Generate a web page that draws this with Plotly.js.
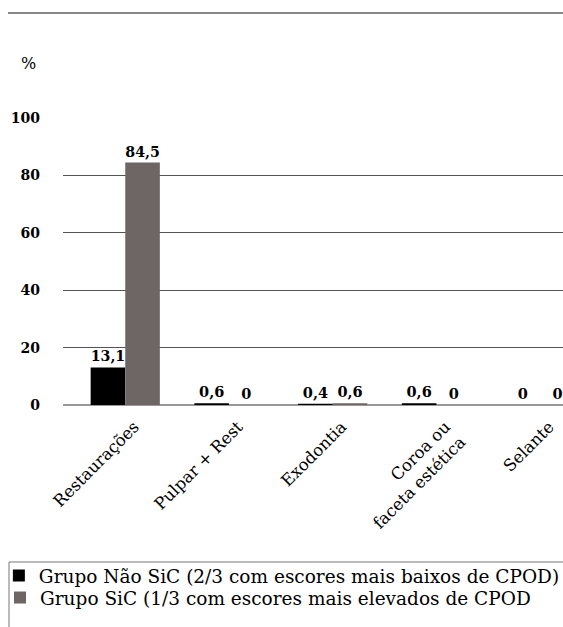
<!DOCTYPE html>
<html><head><meta charset="utf-8">
<script src="https://cdn.plot.ly/plotly-3.0.1.min.js"></script>
<style>body{margin:0;background:#fff}#c{width:563px;height:627px}</style>
</head><body><div id="c"></div>
<script>
var categories = ["Restaurações", "Pulpar + Rest", "Exodontia", "Coroa ou<br>faceta estética", "Selante"];
var naoSic = [13.1, 0.6, 0.4, 0.6, 0];
var sic = [84.5, 0, 0.6, 0, 0];
var seriesNames = ["Grupo Não SiC (2/3 com escores mais baixos de CPOD)", "Grupo SiC (1/3 com escores mais elevados de CPOD"];
var yTicks = [0, 20, 40, 60, 80, 100];

var fmt = function(v){ return String(v).replace('.', ','); };
var labelFont = {family: "DejaVu Serif", size: 14.5, color: "#000", weight: "bold"};
var legFont = {family: "DejaVu Serif", size: 18.5, color: "#000"};

var traces = [
  {type: "bar", x: categories, y: naoSic, name: seriesNames[0], marker: {color: "#000000"}, legend: "legend",
   text: naoSic.map(fmt), textposition: "outside", textfont: labelFont, cliponaxis: false, hoverinfo: "none"},
  {type: "bar", x: categories, y: sic, name: seriesNames[1], marker: {color: "#6e6664"}, legend: "legend2",
   text: sic.map(fmt), textposition: "outside", textfont: labelFont, cliponaxis: false, hoverinfo: "none"}
];

var legBase = {xanchor: "left", yanchor: "middle", font: legFont, bgcolor: "rgba(0,0,0,0)", itemwidth: 30, borderwidth: 0};
var layout = {
  width: 563, height: 627,
  margin: {l: 62, r: 0, t: 118, b: 222, pad: 0},
  paper_bgcolor: "#fff", plot_bgcolor: "#fff",
  barmode: "group", bargap: 0.333, bargroupgap: 0,
  showlegend: true,
  legend: Object.assign({x: -0.126, y: (405 - 576) / 287}, legBase),
  legend2: Object.assign({x: -0.126, y: (405 - 598) / 287}, legBase),
  xaxis: {type: "category", range: [-0.6, 4.22], tickangle: -45, showgrid: false, zeroline: false,
    showline: false, ticks: "", ticklabelstandoff: 8, ticklabelshift: 9,
    tickfont: {family: "DejaVu Serif", size: 16.5, color: "#000"}},
  yaxis: {range: [0, 100], tickvals: yTicks, ticktext: yTicks.map(String), showgrid: true,
    gridcolor: "#555", gridwidth: 1, zeroline: true, zerolinecolor: "#999", zerolinewidth: 2,
    ticks: "", ticklabelstandoff: 22, tickfont: {family: "DejaVu Serif", size: 14, color: "#000", weight: "bold"}},
  shapes: [
    {type: "line", xref: "paper", yref: "paper", x0: -0.11, x1: 1.0, y0: 1.366, y1: 1.366, line: {color: "#888", width: 2}},
    {type: "rect", xref: "paper", yref: "paper", x0: -0.108, x1: 1.05, y0: -0.547, y1: -0.85, line: {color: "#777", width: 1}}
  ],
  annotations: [
    {xref: "paper", yref: "paper", x: -0.088, y: 1.19, xanchor: "left", yanchor: "middle", text: "%", showarrow: false,
     font: {family: "DejaVu Serif", size: 16, color: "#000"}}
  ],
  separators: ",."
};
Plotly.newPlot("c", traces, layout, {displayModeBar: false, staticPlot: true});
</script></body></html>
